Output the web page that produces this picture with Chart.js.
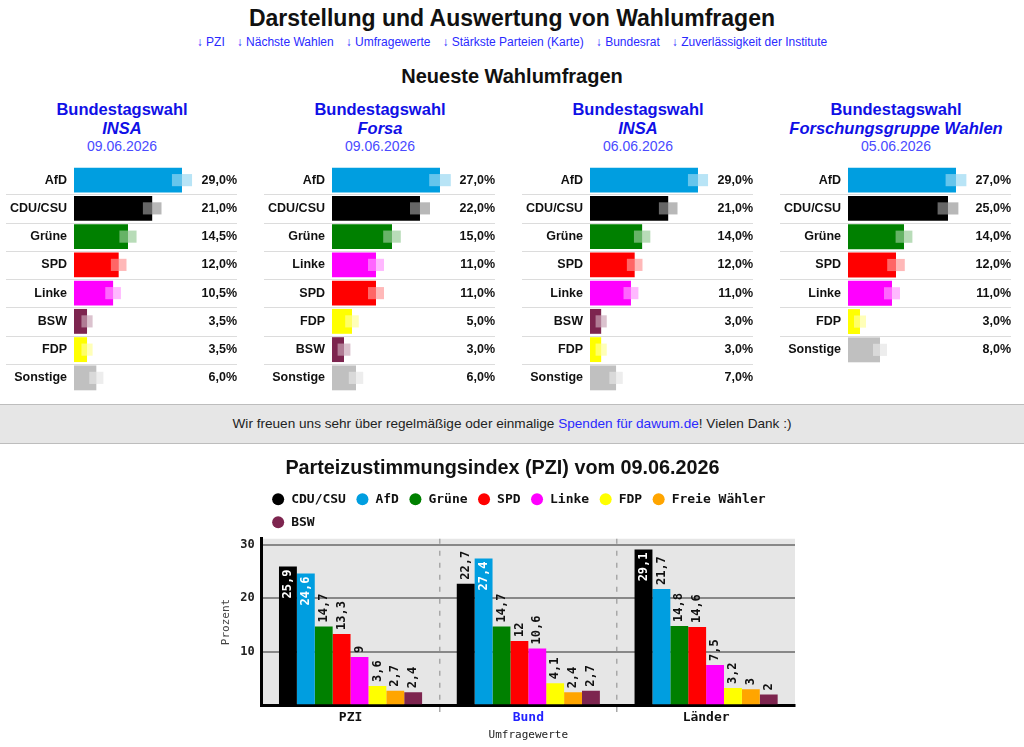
<!DOCTYPE html>
<html lang="de">
<head>
<meta charset="utf-8">
<title>Darstellung und Auswertung von Wahlumfragen</title>
<script src="https://cdn.jsdelivr.net/npm/chart.js@4.4.1/dist/chart.umd.min.js"></script>
<style>
  body { margin: 0; width: 1024px; height: 747px; position: relative; overflow: hidden; background: #fff;
         font-family: "Liberation Sans", Arial, sans-serif; color: #111; }
  h1 { position: absolute; left: 0; top: 6px; width: 1024px; margin: 0; text-align: center;
       font-size: 23px; line-height: 24px; }
  .links { position: absolute; left: 0; top: 34px; width: 1024px; text-align: center;
           font-size: 12px; line-height: 16px; color: #2a2aff; }
  .links span { margin: 0 6px; }
  h2 { position: absolute; left: 0; top: 66px; width: 1024px; margin: 0; text-align: center;
       font-size: 20px; line-height: 20px; }
  .poll { position: absolute; top: 100px; width: 232px; text-align: center; color: #1010e6; }
  .poll .t { font-size: 16.5px; line-height: 19px; font-weight: bold; }
  .poll .i { font-size: 16.5px; line-height: 19px; font-weight: bold; font-style: italic; }
  .poll .d { font-size: 14px; line-height: 16px; color: #4a4aff; }
  .box { position: absolute; }
  .banner { position: absolute; left: 0; top: 404px; width: 1024px; height: 38px; background: #e6e6e6;
            border-top: 1px solid #bdbdbd; border-bottom: 1px solid #bdbdbd; text-align: center;
            font-size: 13.6px; line-height: 38px; color: #222; }
  .banner a { color: #2a2aff; text-decoration: none; }
</style>
</head>
<body>
<h1>Darstellung und Auswertung von Wahlumfragen</h1>
<div class="links"><span>↓ PZI</span><span>↓ Nächste Wahlen</span><span>↓ Umfragewerte</span><span>↓ Stärkste Parteien (Karte)</span><span>↓ Bundesrat</span><span>↓ Zuverlässigkeit der Institute</span></div>
<h2>Neueste Wahlumfragen</h2>

<div class="poll" style="left:6px"><div class="t">Bundestagswahl</div><div class="i">INSA</div><div class="d">09.06.2026</div></div>
<div class="poll" style="left:264px"><div class="t">Bundestagswahl</div><div class="i">Forsa</div><div class="d">09.06.2026</div></div>
<div class="poll" style="left:522px"><div class="t">Bundestagswahl</div><div class="i">INSA</div><div class="d">06.06.2026</div></div>
<div class="poll" style="left:780px"><div class="t">Bundestagswahl</div><div class="i">Forschungsgruppe Wahlen</div><div class="d">05.06.2026</div></div>

<div class="box" style="left:6px;top:166px;width:231px;height:226px"><canvas id="poll1"></canvas></div>
<div class="box" style="left:264px;top:166px;width:231px;height:226px"><canvas id="poll2"></canvas></div>
<div class="box" style="left:522px;top:166px;width:231px;height:226px"><canvas id="poll3"></canvas></div>
<div class="box" style="left:780px;top:166px;width:231px;height:198px"><canvas id="poll4"></canvas></div>

<div class="banner">Wir freuen uns sehr über regelmäßige oder einmalige <a>Spenden für dawum.de</a>! Vielen Dank :)</div>

<div class="box" style="left:210px;top:455px;width:590px;height:291px"><canvas id="pzi"></canvas></div>

<script>
// Neueste Umfragen (Werte in %, Fehlerbalken in Prozentpunkten, geschätzt)
const poll1Parties = ['AfD', 'CDU/CSU', 'Grüne', 'SPD', 'Linke', 'BSW', 'FDP', 'Sonstige'];
const poll1Values = [29.0, 21.0, 14.5, 12.0, 10.5, 3.5, 3.5, 6.0];
const poll1Margins = [2.7, 2.5, 2.3, 2.1, 2.1, 1.5, 1.5, 1.9];

const poll2Parties = ['AfD', 'CDU/CSU', 'Grüne', 'Linke', 'SPD', 'FDP', 'BSW', 'Sonstige'];
const poll2Values = [27.0, 22.0, 15.0, 11.0, 11.0, 5.0, 3.0, 6.0];
const poll2Margins = [2.7, 2.5, 2.2, 2.0, 2.0, 1.7, 1.6, 1.8];

const poll3Parties = ['AfD', 'CDU/CSU', 'Grüne', 'SPD', 'Linke', 'BSW', 'FDP', 'Sonstige'];
const poll3Values = [29.0, 21.0, 14.0, 12.0, 11.0, 3.0, 3.0, 7.0];
const poll3Margins = [2.7, 2.5, 2.2, 2.1, 2.0, 1.5, 1.5, 1.8];

const poll4Parties = ['AfD', 'CDU/CSU', 'Grüne', 'SPD', 'Linke', 'FDP', 'Sonstige'];
const poll4Values = [27.0, 25.0, 14.0, 12.0, 11.0, 3.0, 8.0];
const poll4Margins = [2.6, 2.6, 2.1, 2.2, 2.0, 1.5, 1.75];

// PZI
const pziCategories = ['PZI', 'Bund', 'Länder'];
const pziParties = ['CDU/CSU', 'AfD', 'Grüne', 'SPD', 'Linke', 'FDP', 'Freie Wähler', 'BSW'];
const pziCduCsu = [25.9, 22.7, 29.1];
const pziAfd = [24.6, 27.4, 21.7];
const pziGruene = [14.7, 14.7, 14.8];
const pziSpd = [13.3, 12, 14.6];
const pziLinke = [9, 10.6, 7.5];
const pziFdp = [3.6, 4.1, 3.2];
const pziFw = [2.7, 2.4, 3];
const pziBsw = [2.4, 2.7, 2];
const pziTicks = [10, 20, 30];

const partyColors = {
  'AfD': '#009ee0', 'CDU/CSU': '#000000', 'Grüne': '#008000', 'SPD': '#ff0000',
  'Linke': '#ff00ff', 'BSW': '#7d254f', 'FDP': '#ffff00', 'Sonstige': '#c0c0c0',
  'Freie Wähler': '#ffa500'
};

const sans = '"Liberation Sans", Arial, sans-serif';
const mono = '"DejaVu Sans Mono", monospace';

function fade(hex, a) {
  const n = parseInt(hex.slice(1), 16);
  return `rgba(${n >> 16}, ${(n >> 8) & 255}, ${n & 255}, ${a})`;
}
function de(v, digits) {
  return (digits == null ? String(v) : v.toFixed(digits)).replace('.', ',');
}

// thin separators between the rows of the poll tables
const rowLines = {
  id: 'rowLines',
  beforeDatasetsDraw(chart) {
    const y = chart.scales.y, ctx = chart.ctx;
    ctx.save();
    ctx.strokeStyle = '#dcdcdc';
    ctx.lineWidth = 1;
    for (let i = 1; i < y.ticks.length; i++) {
      const py = Math.round((y.getPixelForTick(i - 1) + y.getPixelForTick(i)) / 2) + 0.5;
      ctx.beginPath();
      ctx.moveTo(0, py);
      ctx.lineTo(chart.width, py);
      ctx.stroke();
    }
    ctx.restore();
  }
};

function pollChart(id, parties, values, margins) {
  const colors = parties.map(p => partyColors[p]);
  const common = { categoryPercentage: 1, grouped: false };
  new Chart(document.getElementById(id), {
    type: 'bar',
    data: {
      labels: parties,
      datasets: [
        { ...common, data: values, backgroundColor: colors, barPercentage: 0.88, order: 2 },
        { ...common, data: values.map((v, i) => [v - margins[i], v]), backgroundColor: 'rgba(255,255,255,0.4)', barPercentage: 0.43, order: 1 },
        { ...common, data: values.map((v, i) => [v, v + margins[i]]), backgroundColor: colors.map(c => fade(c, 0.28)), barPercentage: 0.43, order: 1 }
      ]
    },
    options: {
      indexAxis: 'y',
      animation: false,
      responsive: true,
      maintainAspectRatio: false,
      layout: { padding: 0 },
      plugins: { legend: { display: false }, tooltip: { enabled: false } },
      scales: {
        x: { display: false, min: 0, max: Math.max(...values) * 1.139 },
        y: {
          grid: { display: false, drawTicks: false }, border: { display: false },
          ticks: { color: '#111', padding: 7, font: { family: sans, size: 12.5, weight: 'bold' } },
          afterFit: s => { s.width = 68; s.paddingTop = 0; s.paddingBottom = 0; }
        },
        y2: {
          type: 'category', position: 'right', offset: true,
          labels: values.map(v => de(v, 1) + '%'),
          grid: { display: false, drawTicks: false }, border: { display: false },
          ticks: { crossAlign: 'far', padding: 0, color: '#111', font: { family: sans, size: 12.5, weight: 'bold' } },
          afterFit: s => { s.width = 40; s.paddingTop = 0; s.paddingBottom = 0; }
        }
      }
    },
    plugins: [rowLines]
  });
}

pollChart('poll1', poll1Parties, poll1Values, poll1Margins);
pollChart('poll2', poll2Parties, poll2Values, poll2Margins);
pollChart('poll3', poll3Parties, poll3Values, poll3Margins);
pollChart('poll4', poll4Parties, poll4Values, poll4Margins);

// grey plot background
const plotBg = {
  id: 'plotBg',
  beforeDraw(chart) {
    const { ctx, chartArea: a } = chart;
    ctx.save();
    ctx.fillStyle = '#e6e6e6';
    ctx.fillRect(a.left, a.top, a.right - a.left, a.bottom - a.top);
    ctx.restore();
  }
};

// rotated value labels, inside the bar when there is no room above
const barValues = {
  id: 'barValues',
  afterDatasetsDraw(chart) {
    const { ctx, chartArea } = chart;
    ctx.save();
    ctx.font = 'bold 12px ' + mono;
    ctx.textBaseline = 'middle';
    chart.data.datasets.forEach((ds, di) => {
      chart.getDatasetMeta(di).data.forEach((bar, i) => {
        const text = de(ds.data[i]);
        const w = ctx.measureText(text).width;
        const inside = bar.y - 4 - w < chartArea.top + 10;
        ctx.save();
        ctx.translate(bar.x, bar.y);
        ctx.rotate(-Math.PI / 2);
        ctx.fillStyle = inside ? '#fff' : '#111';
        ctx.textAlign = inside ? 'right' : 'left';
        ctx.fillText(text, inside ? -3 : 4, 0);
        ctx.restore();
      });
    });
    ctx.restore();
  }
};

const pziValues = [pziCduCsu, pziAfd, pziGruene, pziSpd, pziLinke, pziFdp, pziFw, pziBsw];

new Chart(document.getElementById('pzi'), {
  type: 'bar',
  data: {
    labels: pziCategories,
    datasets: pziParties.map((p, i) => ({
      label: p,
      data: pziValues[i],
      backgroundColor: partyColors[p],
      categoryPercentage: 0.805,
      barPercentage: 1
    }))
  },
  options: {
    animation: false,
    responsive: true,
    maintainAspectRatio: false,
    layout: { padding: { right: 5 } },
    plugins: {
      title: {
        display: true, text: 'Parteizustimmungsindex (PZI) vom 09.06.2026', color: '#111',
        font: { family: sans, size: 19.8, weight: 'bold' }, padding: { top: 2, bottom: 2 }
      },
      legend: {
        position: 'top', align: 'start', fullSize: false,
        labels: {
          usePointStyle: true, pointStyle: 'circle', boxHeight: 8.5, padding: 10, color: '#111',
          font: { family: mono, size: 13, weight: 'bold' }
        }
      },
      tooltip: { enabled: false }
    },
    scales: {
      x: {
        grid: {
          offset: true, lineWidth: 1.5, tickLength: 12, tickBorderDash: [5, 7],
          color: c => (c.index === 1 || c.index === 2) ? '#a8a8a8' : 'transparent'
        },
        border: { color: '#000', width: 3, dash: [5, 7] },
        ticks: {
          padding: -7,
          color: c => c.index === 1 ? '#2222ff' : '#111',
          font: { family: mono, size: 13, weight: 'bold' }
        },
        title: {
          display: true, text: 'Umfragewerte', color: '#222',
          font: { family: mono, size: 11 }, padding: { top: 10, bottom: 4 }
        }
      },
      y: {
        min: 0, max: 31.1,
        afterBuildTicks: s => { s.ticks = [0, ...pziTicks].map(v => ({ value: v })); },
        ticks: {
          padding: 7, color: '#222', font: { family: mono, size: 12, weight: 'bold' },
          callback: v => v === 0 ? '' : v
        },
        grid: { color: '#888', lineWidth: 2, drawTicks: false },
        border: { color: '#000', width: 3 },
        title: {
          display: true, text: 'Prozent', color: '#444',
          font: { family: mono, size: 11 }, padding: { top: 10, bottom: 0 }
        }
      }
    }
  },
  plugins: [plotBg, barValues]
});
</script>
</body>
</html>
